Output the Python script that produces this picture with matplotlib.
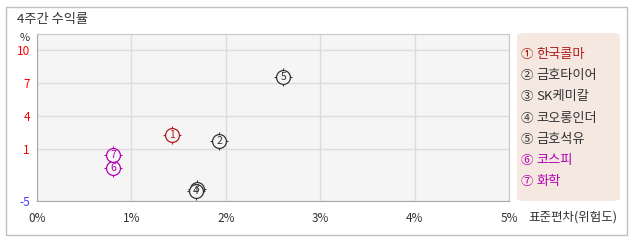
import matplotlib
matplotlib.use("Agg")
import matplotlib.pyplot as plt
import numpy as np
from matplotlib.patches import FancyBboxPatch, Rectangle

plt.rcParams['font.family'] = ['Noto Sans CJK KR', 'DejaVu Sans']

# data
names = ['한국콜마', '금호타이어', 'SK케미칼', '코오롱인더', '금호석유', '코스피', '화학']
marks = ['①', '②', '③', '④', '⑤', '⑥', '⑦']
std_dev = [1.43, 1.93, 1.69, 1.68, 2.61, 0.81, 0.81]      # %
ret_4w = [2.27, 1.73, -3.6, -3.9, 7.55, -1.19, 0.31]      # %
colors = ['#b01c1c', '#333333', '#333333', '#333333', '#333333', '#b400b4', '#b400b4']
x_ticks = [0, 1, 2, 3, 4, 5]
y_ticks = [-5, 1, 4, 7, 10]
y_tick_colors = ['#4040ff', 'red', 'red', 'red', 'red']

# the source chart squeezes the part below 1
K = 52 / 66


def fwd(y):
    y = np.asarray(y, dtype=float)
    return np.where(y >= 1, y, 1 + (y - 1) * K)


def inv(y):
    y = np.asarray(y, dtype=float)
    return np.where(y >= 1, y, 1 + (y - 1) / K)


W, H = 638, 242
fig = plt.figure(figsize=(W / 100, H / 100), dpi=100)
fig.patch.set_facecolor('white')

fig.patches.append(Rectangle((6 / W, 1 - 235 / H), 621 / W, 228 / H, transform=fig.transFigure,
                             fill=False, edgecolor='#c0c0c0', lw=1))

ax = fig.add_axes([37 / W, 1 - 201 / H, 472 / W, 167 / H])
ax.set_facecolor('#f5f5f5')
ax.set_yscale('function', functions=(fwd, inv))
ax.set_xlim(0, 5)
ax.set_ylim(-5, 11.45)

ax.set_xticks(x_ticks)
ax.set_xticklabels([f'{v}%' for v in x_ticks])
ax.set_yticks(y_ticks)
ax.set_yticklabels([str(v) for v in y_ticks])
for lab, c in zip(ax.get_yticklabels(), y_tick_colors):
    lab.set_color(c)
ax.tick_params(axis='x', length=0, pad=8, labelsize=8.5, labelcolor='#333333')
ax.tick_params(axis='y', length=0, pad=5, labelsize=8.5)
ax.minorticks_off()
ax.grid(True, color='#dcdcdc', lw=1)
ax.set_axisbelow(True)
for side in ['left', 'bottom']:
    ax.spines[side].set_color('#a8a8a8')
for side in ['top', 'right']:
    ax.spines[side].set_color('#c8c8c8')

for i in range(len(names)):
    x, y, c = std_dev[i], ret_4w[i], colors[i]
    ax.plot(x, y, marker='+', ms=12.5, mew=0.8, color=c, zorder=3)
    ax.plot(x, y, marker='o', ms=10, mew=0.9, mec=c, mfc='#f5f5f5', zorder=4)
    ax.text(x, y, str(i + 1), color=c, fontsize=7.5, ha='center', va='center', zorder=5)

fig.text(17 / W, 1 - 20 / H, '4주간 수익률', fontsize=9.5, color='#333333', va='center')
fig.text(25 / W, 1 - 38 / H, '%', fontsize=8, color='#333333', ha='center', va='center')
fig.text(528 / W, 1 - 217 / H, '표준편차(위험도)', fontsize=9, color='#333333', va='center')

fig.patches.append(FancyBboxPatch((517 / W, 1 - 201 / H), 103 / W, 168 / H,
                                  boxstyle='round,pad=0,rounding_size=0.012',
                                  transform=fig.transFigure, facecolor='#f5e8e1',
                                  edgecolor='none'))
for i, name in enumerate(names):
    yy = 54.5 + i * 21.2
    fig.text(521 / W, 1 - yy / H, marks[i], fontsize=9, color=colors[i], va='center')
    fig.text(536 / W, 1 - yy / H, name, fontsize=9.5, color=colors[i], va='center')

fig.savefig('out.png', dpi=100)
